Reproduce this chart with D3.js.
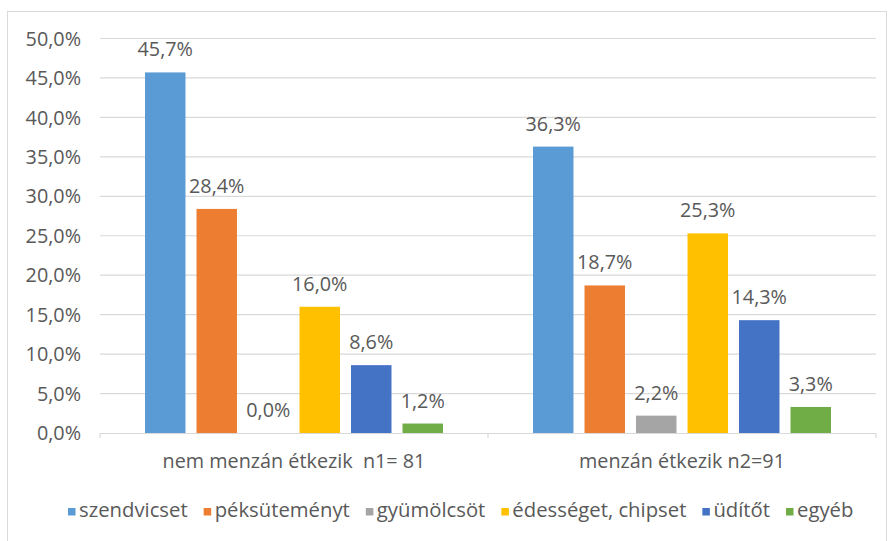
<!DOCTYPE html>
<html>
<head>
<meta charset="utf-8">
<script src="https://cdn.jsdelivr.net/npm/d3@7"></script>
<style>
  body { margin: 0; background: #fff; }
  text { font-family: "Open Sans", sans-serif; fill: #595959; white-space: pre; }
</style>
</head>
<body>
<div id="chart"></div>
<script>
// data (percent)
const groups = ["nem menzán étkezik  n1= 81", "menzán étkezik n2=91"];
const series = ["szendvicset", "péksüteményt", "gyümölcsöt", "édességet, chipset", "üdítőt", "egyéb"];
const nemMenzan = [45.7, 28.4, 0.0, 16.0, 8.6, 1.2];
const menzan = [36.3, 18.7, 2.2, 25.3, 14.3, 3.3];
const yTicks = [0, 5, 10, 15, 20, 25, 30, 35, 40, 45, 50];
const colors = ["#5B9BD5", "#ED7D31", "#A5A5A5", "#FFC000", "#4472C4", "#70AD47"];

const values = [nemMenzan, menzan];

var width = 890, height = 541;
var fontSize = "19.8px";
var svg = d3.select("#chart").append("svg")
  .attr("width", width)
  .attr("height", height);

// chart area frame
svg.append("rect")
  .attr("x", 7.5).attr("y", 11.5)
  .attr("width", 879).attr("height", 560)
  .attr("fill", "#fff")
  .attr("stroke", "#d9d9d9");

var huLocale = d3.formatLocale({decimal: ",", thousands: " ", grouping: [3], currency: ["", " Ft"]});
var fmt = huLocale.format(".1f");

var x0 = d3.scaleBand().domain(groups).range([100, 876]);
var x1 = d3.scaleBand().domain(series).range([0, x0.bandwidth()])
  .paddingInner(0.214).paddingOuter(0.874);
var y = d3.scaleLinear().domain([0, 50]).range([433, 38.5]);
var color = d3.scaleOrdinal().domain(series).range(colors);

// gridlines
svg.append("g")
  .selectAll("line")
  .data(yTicks.slice(1))
  .enter().append("line")
    .attr("x1", 100).attr("x2", 876)
    .attr("y1", function(d) { return y(d); })
    .attr("y2", function(d) { return y(d); })
    .attr("stroke", "#d9d9d9")
    .attr("stroke-width", 1.2);

// y axis labels
svg.append("g")
  .selectAll("text")
  .data(yTicks)
  .enter().append("text")
    .attr("x", 81)
    .attr("y", function(d) { return y(d); })
    .attr("dy", "0.36em")
    .attr("text-anchor", "end")
    .style("font-size", fontSize)
    .text(function(d) { return fmt(d) + "%"; });

// bars
var gGroups = svg.append("g")
  .selectAll("g")
  .data(groups)
  .enter().append("g")
    .attr("transform", function(d) { return "translate(" + x0(d) + ",0)"; });

gGroups.selectAll("rect")
  .data(function(d, i) { return series.map(function(s, j) { return {key: s, value: values[i][j]}; }); })
  .enter().append("rect")
    .attr("x", function(d) { return x1(d.key); })
    .attr("y", function(d) { return y(d.value); })
    .attr("width", x1.bandwidth())
    .attr("height", function(d) { return y(0) - y(d.value); })
    .attr("fill", function(d) { return color(d.key); });

gGroups.selectAll("text")
  .data(function(d, i) { return series.map(function(s, j) { return {key: s, value: values[i][j]}; }); })
  .enter().append("text")
    .attr("x", function(d) { return x1(d.key) + x1.bandwidth() / 2; })
    .attr("y", function(d) { return y(d.value) - 16; })
    .attr("text-anchor", "middle")
    .style("font-size", fontSize)
    .text(function(d) { return fmt(d.value) + "%"; });

// category axis
var axisG = svg.append("g");
axisG.append("line")
  .attr("x1", 100).attr("x2", 876)
  .attr("y1", y(0) + 0.5).attr("y2", y(0) + 0.5)
  .attr("stroke", "#d9d9d9").attr("stroke-width", 1.2);
axisG.selectAll("line.tick")
  .data(groups.map(function(g) { return x0(g); }).concat([x0.range()[1]]))
  .enter().append("line")
    .attr("class", "tick")
    .attr("x1", function(d) { return d; }).attr("x2", function(d) { return d; })
    .attr("y1", y(0)).attr("y2", y(0) + 5)
    .attr("stroke", "#d9d9d9").attr("stroke-width", 1.2);
axisG.selectAll("text")
  .data(groups)
  .enter().append("text")
    .attr("x", function(d) { return x0(d) + x0.bandwidth() / 2; })
    .attr("y", 468)
    .attr("text-anchor", "middle")
    .style("font-size", fontSize)
    .text(function(d) { return d; });

// legend
var legend = svg.append("g").attr("transform", "translate(68,517)");
var lx = 0;
series.forEach(function(s) {
  var item = legend.append("g").attr("transform", "translate(" + lx + ",0)");
  item.append("rect")
    .attr("x", 0).attr("y", -9)
    .attr("width", 7.5).attr("height", 7.5)
    .attr("fill", color(s));
  var t = item.append("text")
    .attr("x", 11).attr("y", 0)
    .style("font-size", "20.3px")
    .text(s);
  lx += 11 + t.node().getComputedTextLength() + 16;
});
</script>
</body>
</html>
